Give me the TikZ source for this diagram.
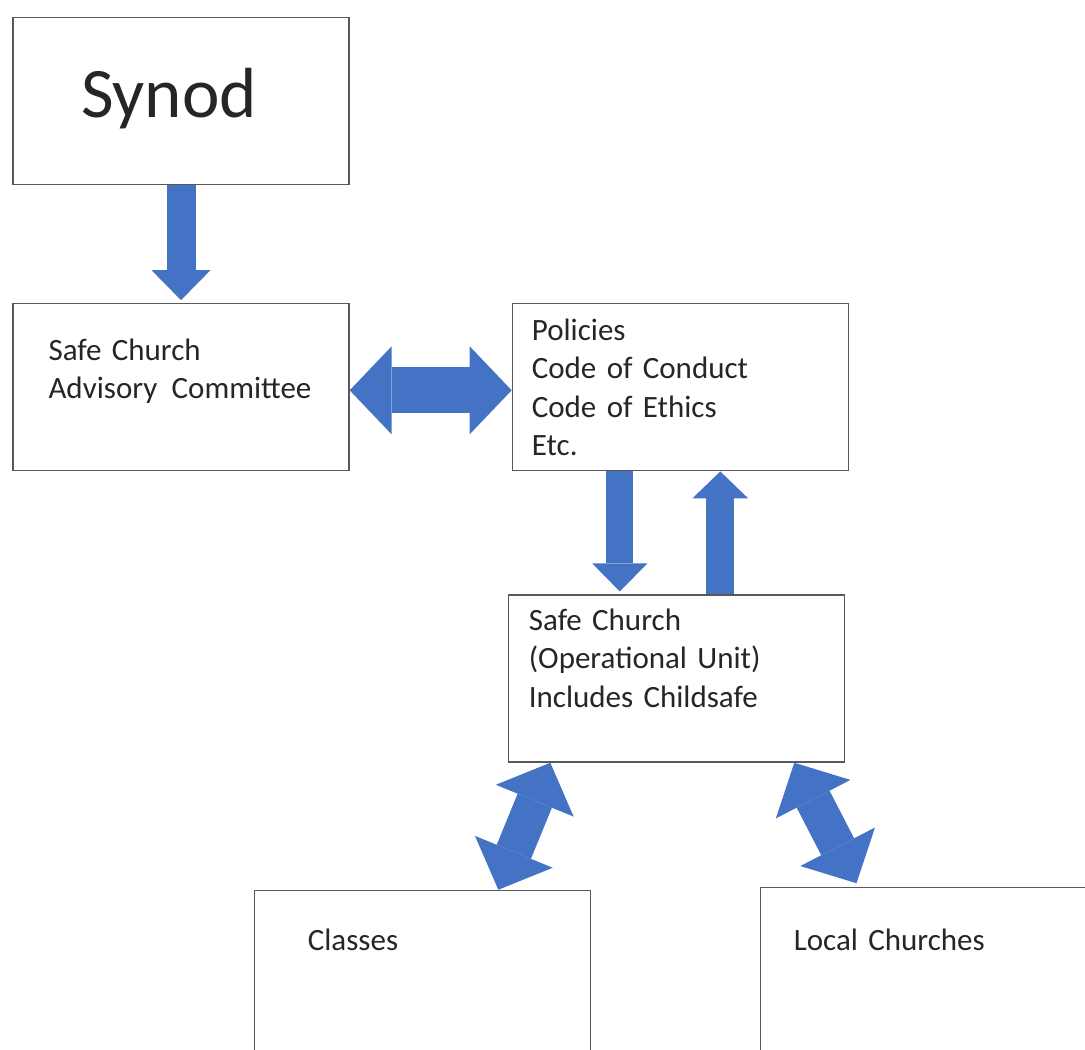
\documentclass[tikz,border=0pt]{standalone}
\usepackage{fontspec}
\setmainfont{Carlito}
\usetikzlibrary{arrows.meta, positioning}
\definecolor{arrowblue}{HTML}{4472C4}
\definecolor{boxline}{HTML}{595959}

\begin{document}
\begin{tikzpicture}[
    x=1pt, y=-1pt,
    node distance=118pt and 162pt,
    box/.style={draw=boxline, line width=1.3pt, minimum width=336pt, minimum height=167pt, inner sep=0pt},
    txt/.style={anchor=base west, inner sep=0pt, text width=310pt, align=left, text=black!85, font=\fontsize{31}{38.5}\selectfont},
    arrow/.style n args={3}{arrowblue, line width=#1, -{Triangle[width=#2, length=#3, line width=0pt]}},
    dblarrow/.style n args={3}{arrowblue, line width=#1, {Triangle[width=#2, length=#3, line width=0pt]}-{Triangle[width=#2, length=#3, line width=0pt]}}
]
\useasboundingbox (0,0) rectangle (1085,1050);
\fill [white] (0,0) rectangle (1085,1050);
\clip (0,0) rectangle (1085,1050);

% Boxes
\node (synod) [box] at (181,101) {};
\node (advisory) [box, below=of synod] {};
\node (policies) [box, right=of advisory] {};
\node (operational) [box, below=123pt of policies, xshift=-4pt] {};
\node (classes) [box, below=127pt of operational, xshift=-254pt] {};
\node (local) [box, below=124pt of operational, xshift=252pt] {};

% Texts
\node (synodtxt) [anchor=base, text=black!85, font=\fontsize{71}{85}\selectfont] at ([shift={(-12,16)}]synod.center) {Synod};
\node (advisorytxt) [txt] at ([shift={(36,57)}]advisory.north west) {Safe Church\\Advisory\hspace{4pt} Committee};
\node (policiestxt) [txt] at ([shift={(20,37)}]policies.north west) {Policies\\Code of Conduct\\Code of Ethics\\Etc.};
\node (operationaltxt) [txt] at ([shift={(21,36)}]operational.north west) {Safe Church\\(Operational Unit)\\Includes Childsafe};
\node (classestxt) [txt] at ([shift={(54,61)}]classes.north west) {Classes};
\node (localtxt) [txt] at ([shift={(34,64)}]local.north west) {Local Churches};

% Arrows
\coordinate (downtop) at ([xshift=-60.5pt]policies.south);
\coordinate (upbottom) at ([xshift=44pt]operational.north);

\draw [arrow={29pt}{59pt}{30pt}, shorten >=3pt] (synod) -- (advisory);
\draw [dblarrow={46pt}{88pt}{42pt}] ([yshift=-3pt]advisory.east) -- ([yshift=-3pt]policies.west);
\draw [arrow={27pt}{55pt}{28pt}, shorten >=3pt] (downtop) -- (downtop |- operational.north);
\draw [arrow={28pt}{56pt}{27pt}] (upbottom) -- (upbottom |- policies.south);
\draw [dblarrow={37pt}{84pt}{41pt}] ([xshift=-126pt]operational.south) -- ([xshift=76pt]classes.north);
\draw [dblarrow={37pt}{84pt}{41pt}, shorten >=4pt] ([xshift=118pt]operational.south) -- ([xshift=-70pt]local.north);

\end{tikzpicture}
\end{document}
